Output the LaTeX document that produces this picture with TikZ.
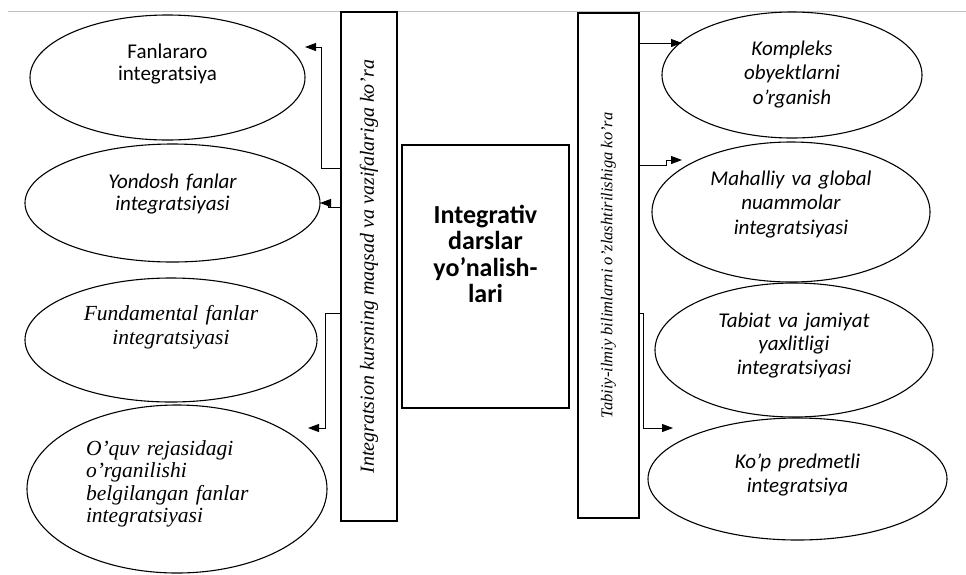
\documentclass[tikz,border=0pt]{standalone}
\usepackage{fontspec}
\setmainfont{Liberation Serif}
\newfontfamily\calfont{Carlito}
\usetikzlibrary{arrows.meta, shapes.geometric, calc}

\definecolor{rulecol}{RGB}{150,205,235}

\begin{document}
\begin{tikzpicture}[
    x=1pt, y=-1pt,
    oval/.style={draw, ellipse, line width=1.1pt, inner sep=0pt, outer sep=0pt,
        text width=180pt, align=center, text height=0pt},
    sidebox/.style={draw, line width=1.3pt, inner sep=0pt, outer sep=0pt, rotate=90},
    arr/.style={-{Triangle[length=11pt, width=8pt]}, line width=0.9pt},
    calf/.style={font=\calfont\fontsize{21}{22.5}\selectfont},
    calit/.style={font=\calfont\itshape\fontsize{21}{22.5}\selectfont},
    serit/.style={font=\itshape\fontsize{21.5}{24}\selectfont},
    ]

\useasboundingbox (0,0) rectangle (966,574);
\draw[rulecol, line width=1pt] (8,11) -- (966,11);

% Markaziy blok
\node[draw, line width=1.3pt, minimum width=167, minimum height=263, inner sep=0pt,
    text width=150pt, align=center, text height=0pt, text depth=107pt,
    font=\calfont\bfseries\fontsize{26}{26.5}\selectfont] (cbox) at (485.5,276.5)
    {Integrativ\\darslar\\yo’nalish-\\lari};

% Yon bloklar
\node[sidebox, minimum width=509, minimum height=56,
    font=\itshape\fontsize{20}{20}\selectfont] (lbox) at (369,266.5)
    {Integratsion kursning maqsad va vazifalariga ko’ra};
\node[sidebox, minimum width=505, minimum height=61,
    font=\itshape\fontsize{16.5}{18}\selectfont] (rbox) at (608.5,265.5)
    {Tabiiy-ilmiy bilimlarni o’zlashtirilishiga ko’ra};

% Chap ellipslar
\node[oval, calf, minimum width=275, minimum height=125, text depth=39pt] (fan) at (167.5,77.5)
    {Fanlararo\\integratsiya};
\node[oval, calit, minimum width=295, minimum height=118, text depth=30pt] (yon) at (172.5,203)
    {Yondosh fanlar\\integratsiyasi};
\node[oval, serit, minimum width=292, minimum height=124, text width=200pt, text depth=40pt] (fun) at (171,340)
    {Fundamental fanlar\\integratsiyasi};
\node[oval, serit, font=\itshape\fontsize{21.5}{22.5}\selectfont, minimum width=300, minimum height=168,
    text width=182pt, align=left, text depth=68pt] (oquv) at (177,489)
    {O’quv rejasidagi\\o’rganilishi\\belgilangan fanlar\\integratsiyasi};

% O'ng ellipslar
\node[oval, calit, font=\calfont\itshape\fontsize{21}{24.5}\selectfont, minimum width=260, minimum height=126, text depth=40pt] (kom) at (792,75)
    {Kompleks\\obyektlarni\\o’rganish};
\node[oval, calit, font=\calfont\itshape\fontsize{21}{24.5}\selectfont, minimum width=278, minimum height=140, text depth=54pt] (mah) at (791,212)
    {Mahalliy va global\\nuammolar\\integratsiyasi};
\node[oval, calit, font=\calfont\itshape\fontsize{21}{23.5}\selectfont, minimum width=278, minimum height=134, text depth=46pt] (tab) at (794,350)
    {Tabiat va jamiyat\\yaxlitligi\\integratsiyasi};
\node[oval, calit, font=\calfont\itshape\fontsize{21}{24}\selectfont, minimum width=299, minimum height=122, text depth=22pt] (kop) at (797.5,479)
    {Ko’p predmetli\\integratsiya};

% Chap strelkalar
\draw[arr] (lbox.north |- 0,168) -- ++(-20,0) |- ($(fan.east)+(0,-30.5)$);
\draw[arr] (lbox.north |- 0,207) -- ++(-13,0) |- (yon.east);
\draw[arr] (lbox.north |- 0,313) -- ++(-16,0) |- ($(oquv.east)+(-19,-61)$);

% O'ng strelkalar
\draw[arr] (rbox.south |- 0,43) -- ($(kom.west)+(20,-32)$);
\draw[arr] (rbox.south |- 0,43) -- (rbox.south |- 0,165) -- ++(27,0) -- ++(0,-5) -- ($(mah.west)+(30,-52)$);
\draw[arr] (rbox.south |- 0,313) -- ++(4,0) |- ($(kop.west)+(25,-51)$);

\end{tikzpicture}
\end{document}
